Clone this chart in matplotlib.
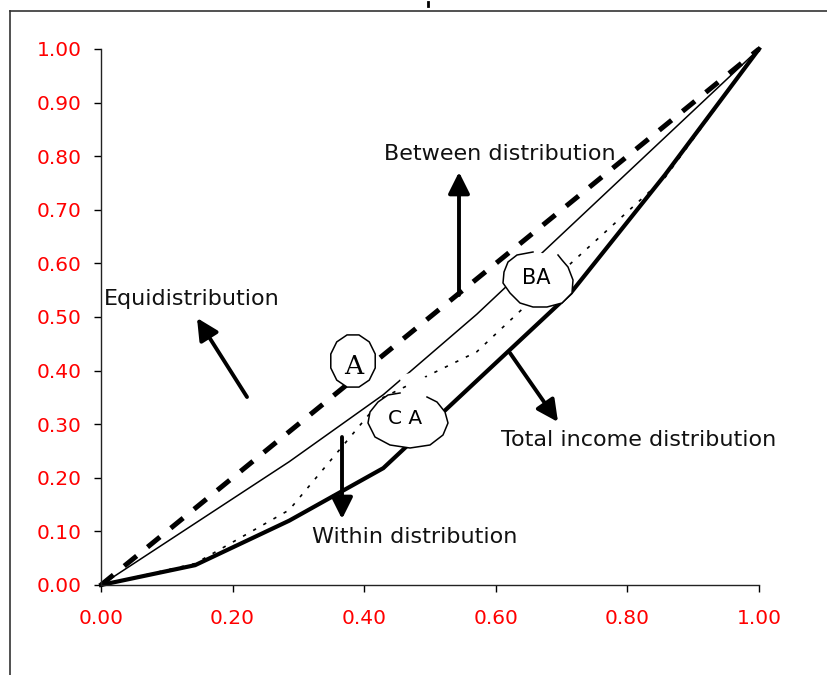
import numpy as np
import matplotlib
matplotlib.use("Agg")
import matplotlib.pyplot as plt
from matplotlib.lines import Line2D
from matplotlib.patches import Polygon, Ellipse
from matplotlib.ticker import FormatStrFormatter

# cumulative population share (7 groups) and the four Lorenz-type curves
pop_share = [0.0, 0.143, 0.286, 0.429, 0.571, 0.714, 0.857, 1.0]
equi = [0.0, 0.143, 0.286, 0.429, 0.571, 0.714, 0.857, 1.0]
between = [0.0, 0.115, 0.23, 0.355, 0.505, 0.67, 0.835, 1.0]
within = [0.0, 0.04, 0.14, 0.35, 0.435, 0.60, 0.76, 1.0]
total = [0.0, 0.037, 0.12, 0.218, 0.381, 0.545, 0.765, 1.0]

ticks = [0.0, 0.2, 0.4, 0.6, 0.8, 1.0]
yticks = [0.0, 0.1, 0.2, 0.3, 0.4, 0.5, 0.6, 0.7, 0.8, 0.9, 1.0]

W, H = 827, 675
AX_L, AX_R, AX_T, AX_B = 101, 759, 49, 585


def px2d(px, py):
    # pixel position in the picture -> data coords of the axes
    return ((px - AX_L) / (AX_R - AX_L), (AX_B - py) / (AX_B - AX_T))


fig = plt.figure(figsize=(W / 100, H / 100), dpi=100)
ax = fig.add_axes([AX_L / W, (H - AX_B) / H, (AX_R - AX_L) / W, (AX_B - AX_T) / H])

ax.plot(pop_share, equi, color='black', lw=3.6, linestyle=(0, (3.2, 2.8)),
        clip_on=False, zorder=2)
ax.plot(pop_share, between, color='black', lw=1.1, clip_on=False, zorder=2)
ax.plot(pop_share, within, color='black', lw=1.2, linestyle=(0, (2, 5)),
        clip_on=False, zorder=2)
ax.plot(pop_share, total, color='black', lw=3.0, clip_on=False, zorder=2,
        solid_joinstyle='miter')

ax.set_xlim(0, 1)
ax.set_ylim(0, 1)
ax.set_xticks(ticks)
ax.set_yticks(yticks)
ax.xaxis.set_major_formatter(FormatStrFormatter('%.2f'))
ax.yaxis.set_major_formatter(FormatStrFormatter('%.2f'))
ax.tick_params(axis='x', length=5, width=1, pad=12, labelsize=14.5, labelcolor='red')
ax.tick_params(axis='y', length=5, width=1, pad=9, labelsize=14.5, labelcolor='red')
for s in ['top', 'right']:
    ax.spines[s].set_visible(False)
for s in ['left', 'bottom']:
    ax.spines[s].set_linewidth(1)
    ax.spines[s].set_color('#222222')

# white blobs with labels
a_pts = []
for k in range(12):
    t = 2 * np.pi * k / 12 + np.pi / 12
    a_pts.append(px2d(353 + 23 * np.cos(t), 361 + 27 * np.sin(t)))
ax.add_patch(Polygon(a_pts, closed=True, facecolor='white', edgecolor='black',
                     lw=1.1, zorder=4))
ax.text(*px2d(354, 366), 'A', family='DejaVu Serif', fontsize=19,
        ha='center', va='center', zorder=5)

ba_pix = [(533, 252), (517, 255), (508, 262), (504, 272), (503, 283), (510, 293),
          (520, 303), (533, 307), (547, 307), (562, 303), (572, 293), (573, 280),
          (568, 267), (562, 260), (558, 255)]
ba_pts = [px2d(*p) for p in ba_pix]
ax.add_patch(Polygon(ba_pts, closed=True, facecolor='white', edgecolor='none', zorder=4))
ax.plot([p[0] for p in ba_pts], [p[1] for p in ba_pts], color='black', lw=1.1,
        clip_on=False, zorder=4)
ax.text(*px2d(536, 278), 'BA', fontsize=15, ha='center', va='center', zorder=5)

ca_pix = [(427, 397), (437, 402), (445, 412), (448, 423), (443, 435), (430, 445),
          (410, 448), (390, 445), (375, 437), (368, 423), (370, 412), (378, 402),
          (388, 395), (400, 393)]
ca_pts = [px2d(*p) for p in ca_pix]
ax.add_patch(Polygon(ca_pts, closed=True, facecolor='white', edgecolor='none', zorder=4))
ax.plot([p[0] for p in ca_pts], [p[1] for p in ca_pts], color='black', lw=1.1,
        clip_on=False, zorder=4)
ax.text(*px2d(405, 419), 'C A', fontsize=14.5, ha='center', va='center', zorder=5)

# small white gap where the curves meet
cx, cy = px2d(413, 379)
ax.add_patch(Ellipse((cx, cy), 26 / 658, 12 / 536, facecolor='white',
                     edgecolor='none', zorder=3))

# arrows: (tail, tip)
arrows = [
    (px2d(459, 295), px2d(459, 172)),
    (px2d(247, 397), px2d(197, 318)),
    (px2d(342, 437), px2d(342, 519)),
    (px2d(510, 353), px2d(558, 422)),
]
for tail, tip in arrows:
    ax.annotate('', xy=tip, xytext=tail,
                arrowprops=dict(arrowstyle='-|>,head_length=0.5,head_width=0.25',
                                lw=2.8, color='black', mutation_scale=26,
                                shrinkA=0, shrinkB=0),
                zorder=5)

labels = [
    ('Between distribution', px2d(384, 154)),
    ('Equidistribution', px2d(104, 299)),
    ('Within distribution', px2d(312, 537)),
    ('Total income distribution', px2d(501, 440)),
]
for txt, pos in labels:
    ax.text(pos[0], pos[1], txt, fontsize=16, color='#111111',
            ha='left', va='center', zorder=6)

# outer frame lines and the small mark at the top
fig.add_artist(Line2D([10 / W, 10 / W], [0, 1 - 11 / H], color='#333333', lw=1.2))
fig.add_artist(Line2D([10 / W, 1], [1 - 11 / H, 1 - 11 / H], color='#333333', lw=1.2))
fig.add_artist(Line2D([428 / W, 428 / W], [1 - 2 / H, 1 - 6 / H], color='black', lw=2))

fig.savefig('out.png', dpi=100)
